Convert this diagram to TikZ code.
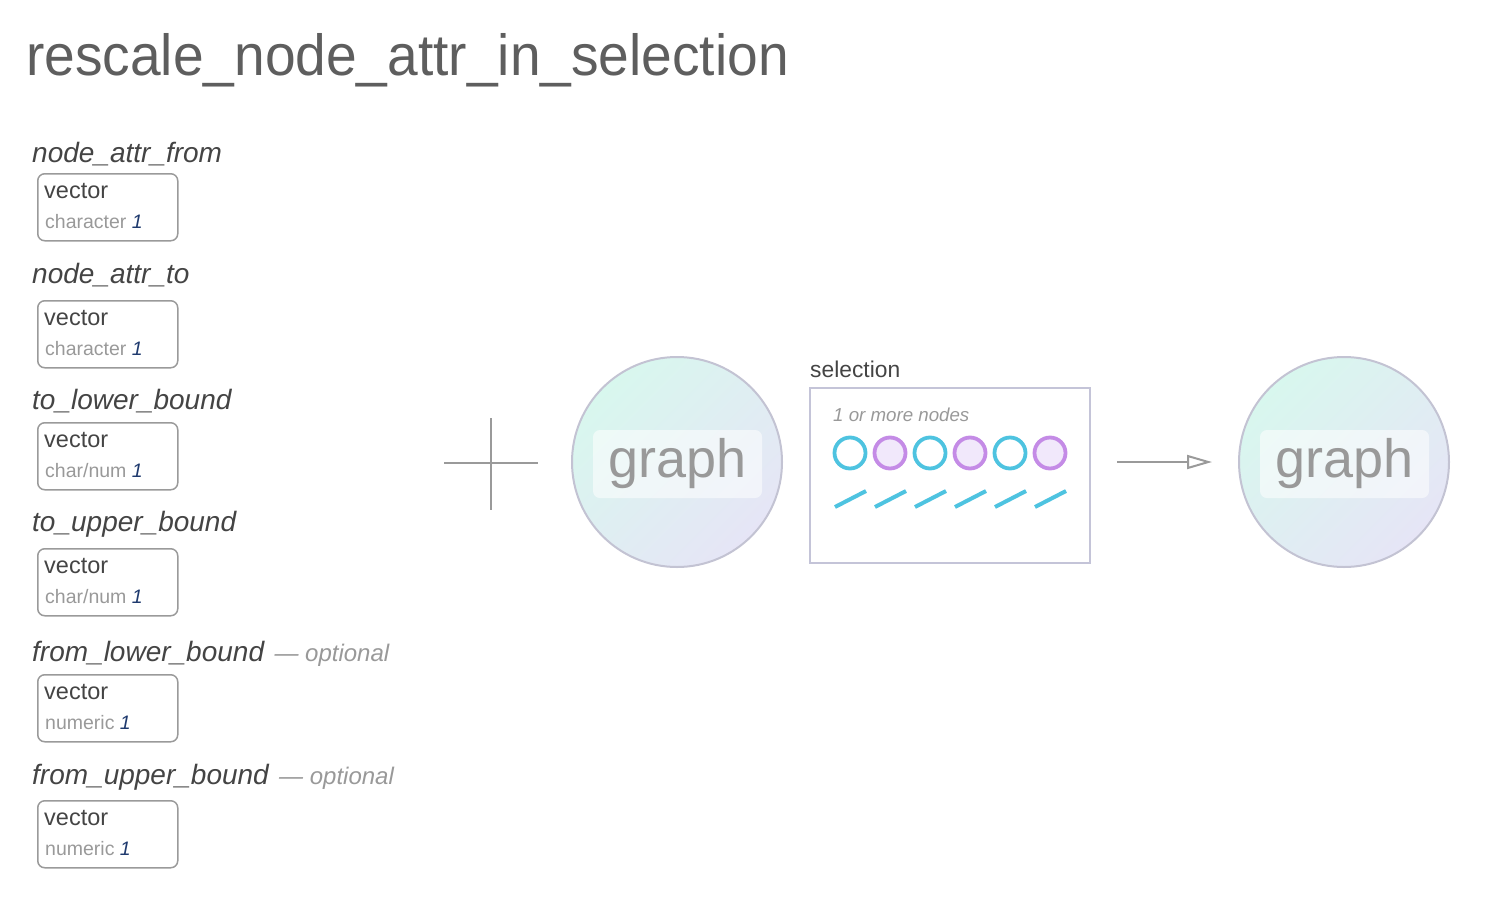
\documentclass[tikz,border=0pt]{standalone}
\usepackage{fontspec}
\setmainfont{Liberation Sans}
\usepackage{graphicx}
\usepackage{xcolor}
\usepackage{tikz}
\usetikzlibrary{positioning,calc,arrows.meta,shadings}

\definecolor{textdark}{HTML}{444444}
\definecolor{textlight}{HTML}{999999}
\definecolor{titlegray}{HTML}{5E5E5E}
\definecolor{navyone}{HTML}{1F3A6E}
\definecolor{boxgray}{HTML}{9A9A9A}
\definecolor{ballrim}{HTML}{C3C3D3}
\definecolor{ballmint}{HTML}{D8F7EE}
\definecolor{balllav}{HTML}{E6E5F6}
\definecolor{selrim}{HTML}{C4C4D8}
\definecolor{ringcyan}{HTML}{4EC3E0}
\definecolor{ringpurple}{HTML}{C48BE6}
\definecolor{ringfill}{HTML}{F1E8FB}
\definecolor{plusgray}{HTML}{9A9A9A}

\newcommand{\lenone}{\textcolor{navyone}{\itshape 1}}

\tikzset{
    argname/.style={anchor=base west, inner sep=0pt, text=textdark, font=\fontsize{28}{34}\selectfont\itshape},
    optnote/.style={anchor=base west, inner sep=0pt, text=textlight, font=\fontsize{24}{30}\selectfont\itshape},
    typebox/.style={draw=boxgray, line width=1.5pt, rounded corners=7pt, minimum width=140pt, minimum height=67pt, anchor=north west, inner sep=0pt},
    typemain/.style={anchor=base west, inner sep=0pt, text=textdark, font=\fontsize{23.5}{28}\selectfont},
    typesub/.style={anchor=base west, inner sep=0pt, text=textlight, font=\fontsize{19.5}{24}\selectfont},
    graphball/.style={circle, draw=ballrim, line width=2pt, minimum size=210pt, inner sep=0pt, top color=ballmint, bottom color=balllav, shading angle=45},
    graphtag/.style={rounded corners=7pt, fill=white, fill opacity=0.55, text opacity=1, text=textlight, minimum width=169pt, minimum height=68pt, inner sep=0pt, font=\fontsize{54}{60}\selectfont},
    cyanring/.style={circle, draw=ringcyan, line width=3.8pt, minimum size=31pt, inner sep=0pt},
    purplering/.style={circle, draw=ringpurple, fill=ringfill, line width=3.8pt, minimum size=31pt, inner sep=0pt},
    slash/.style={draw=ringcyan, line width=4pt},
    plusline/.style={draw=plusgray, line width=2pt},
}

\begin{document}
\begin{tikzpicture}[x=1pt, y=-1pt]
    \useasboundingbox (0,0) rectangle (1510,900);

    % title
    \node [anchor=base west, inner sep=0pt, text=titlegray, font=\fontsize{58}{70}\selectfont] (title) at (26,75) {\scalebox{0.95}[1]{rescale\_node\_attr\_in\_selection}};

    % arguments
    \node [argname] (nafrom) at (32,162) {node\_attr\_from};
    \node [typebox] (nafrombox) at (37,173) {};
    \node [typemain] at ([xshift=7pt,yshift=-25pt]nafrombox.north west) {vector};
    \node [typesub] at ([xshift=8pt,yshift=-55pt]nafrombox.north west) {character \lenone};

    \node [argname] (nato) at (32,283) {node\_attr\_to};
    \node [typebox] (natobox) at (37,300) {};
    \node [typemain] at ([xshift=7pt,yshift=-25pt]natobox.north west) {vector};
    \node [typesub] at ([xshift=8pt,yshift=-55pt]natobox.north west) {character \lenone};

    \node [argname] (tolo) at (32,409) {to\_lower\_bound};
    \node [typebox] (tolobox) at (37,422) {};
    \node [typemain] at ([xshift=7pt,yshift=-25pt]tolobox.north west) {vector};
    \node [typesub] at ([xshift=8pt,yshift=-55pt]tolobox.north west) {char/num \lenone};

    \node [argname] (toup) at (32,531) {to\_upper\_bound};
    \node [typebox] (toupbox) at (37,548) {};
    \node [typemain] at ([xshift=7pt,yshift=-25pt]toupbox.north west) {vector};
    \node [typesub] at ([xshift=8pt,yshift=-55pt]toupbox.north west) {char/num \lenone};

    \node [argname] (fromlo) at (32,661) {from\_lower\_bound};
    \node [optnote, right=10pt of fromlo.base east, anchor=base west] {— optional};
    \node [typebox] (fromlobox) at (37,674) {};
    \node [typemain] at ([xshift=7pt,yshift=-25pt]fromlobox.north west) {vector};
    \node [typesub] at ([xshift=8pt,yshift=-55pt]fromlobox.north west) {numeric \lenone};

    \node [argname] (fromup) at (32,784) {from\_upper\_bound};
    \node [optnote, right=10pt of fromup.base east, anchor=base west] {— optional};
    \node [typebox] (fromupbox) at (37,800) {};
    \node [typemain] at ([xshift=7pt,yshift=-25pt]fromupbox.north west) {vector};
    \node [typesub] at ([xshift=8pt,yshift=-55pt]fromupbox.north west) {numeric \lenone};

    % plus
    \coordinate (plusc) at (491,463);
    \draw [plusline] ([xshift=-47pt]plusc) -- ([xshift=47pt]plusc);
    \draw [plusline] ([yshift=45pt]plusc) -- ([yshift=-47pt]plusc);

    % input graph
    \node [graphball] (gin) at (677,462) {};
    \node [graphtag] (gintag) at (677.5,464) {graph};

    % selection
    \node [anchor=base west, inner sep=0pt, text=textdark, font=\fontsize{22.8}{28}\selectfont] (sellabel) at (810,377) {selection};
    \node [draw=selrim, line width=2pt, minimum width=280pt, minimum height=175pt, inner sep=0pt] (sel) at (950,475.5) {};
    \node [anchor=base west, inner sep=0pt, text=textlight, font=\fontsize{18.7}{24}\selectfont\itshape] (selnote) at (833,421) {1 or more nodes};

    \node [cyanring] (n1) at (850,453) {};
    \node [purplering] (n2) at (890,453) {};
    \node [cyanring] (n3) at (930,453) {};
    \node [purplering] (n4) at (970,453) {};
    \node [cyanring] (n5) at (1010,453) {};
    \node [purplering] (n6) at (1050,453) {};

    \draw [slash] (835,507) -- (866,491);
    \draw [slash] (875,507) -- (906,491);
    \draw [slash] (915,507) -- (946,491);
    \draw [slash] (955,507) -- (986,491);
    \draw [slash] (995,507) -- (1026,491);
    \draw [slash] (1035,507) -- (1066,491);

    % output graph
    \node [graphball] (gout) at (1344,462) {};
    \node [graphtag] (gouttag) at (1344.5,464) {graph};

    \draw [draw=plusgray, line width=2pt, -{Triangle[open, length=25pt, width=14pt]}, shorten <=26pt, shorten >=26pt] (sel.east |- gout.west) -- (gout.west);
\end{tikzpicture}
\end{document}
